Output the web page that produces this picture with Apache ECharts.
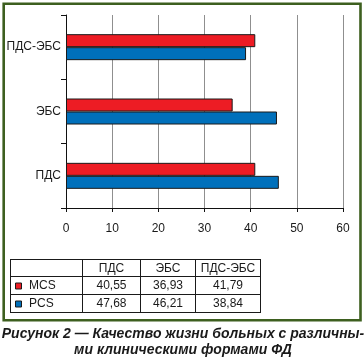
<!DOCTYPE html>
<html><head><meta charset="utf-8">
<script src="https://cdn.jsdelivr.net/npm/echarts@6/dist/echarts.min.js"></script>
<style>html,body{margin:0;padding:0;background:#fff}#c{width:364px;height:359px}</style>
</head><body><div id="c"></div>
<script>
// Data
var categories = ['ПДС', 'ЭБС', 'ПДС-ЭБС'];
var seriesNames = ['MCS', 'PCS'];
var mcsValues = [41.0, 36.1, 41.0];   // bar lengths as drawn
var pcsValues = [46.1, 45.7, 39.0];
var tableMCS = ['40,55', '36,93', '41,79']; // values printed in the table
var tablePCS = ['47,68', '46,21', '38,84'];
var xTicks = [0, 10, 20, 30, 40, 50, 60];
var captionLines = ['Рисунок 2 — Качество жизни больных с различны-', 'ми клиническими формами ФД'];

var colors = ['#ed1c24', '#0070bb'];
var FONT = '"Liberation Sans", Arial, sans-serif';
var chart = echarts.init(document.getElementById('c'), null, {renderer: 'canvas'});

// table graphics
var colX = [10, 82, 140, 195, 260];
var rowY = [259, 276, 294, 312];
var g = [];
g.push({type: 'rect', shape: {x: 3.7, y: 3.7, width: 356.8, height: 316.6}, style: {fill: 'none', stroke: '#3d5f1f', lineWidth: 2.6}, z: 100});
rowY.forEach(function (y) {
  g.push({type: 'line', shape: {x1: colX[0], y1: y + 0.5, x2: colX[colX.length - 1], y2: y + 0.5}, style: {stroke: '#1a1a1a', lineWidth: 1}});
});
colX.forEach(function (x) {
  g.push({type: 'line', shape: {x1: x + 0.5, y1: rowY[0], x2: x + 0.5, y2: rowY[rowY.length - 1] + 1}, style: {stroke: '#1a1a1a', lineWidth: 1}});
});
var cellFont = '12px ' + FONT;
categories.forEach(function (c, i) {
  var cx = (colX[i + 1] + colX[i + 2]) / 2 + 0.5;
  g.push({type: 'text', style: {text: c, x: cx, y: (rowY[0] + rowY[1]) / 2 + 1, align: 'center', verticalAlign: 'middle', font: cellFont, fill: '#1a1a1a'}});
  g.push({type: 'text', style: {text: tableMCS[i], x: cx, y: (rowY[1] + rowY[2]) / 2 + 1, align: 'center', verticalAlign: 'middle', font: cellFont, fill: '#1a1a1a'}});
  g.push({type: 'text', style: {text: tablePCS[i], x: cx, y: (rowY[2] + rowY[3]) / 2 + 1, align: 'center', verticalAlign: 'middle', font: cellFont, fill: '#1a1a1a'}});
});
seriesNames.forEach(function (n, i) {
  var cy = (rowY[i + 1] + rowY[i + 2]) / 2 + 1;
  g.push({type: 'rect', shape: {x: 15.5, y: cy - 3, width: 6, height: 6}, style: {fill: colors[i], stroke: '#1a1a1a', lineWidth: 1}});
  g.push({type: 'text', style: {text: n, x: 29, y: cy, align: 'left', verticalAlign: 'middle', font: cellFont, fill: '#1a1a1a'}});
});
captionLines.forEach(function (t, i) {
  g.push({type: 'text', style: {text: t, x: 183, y: 334.5 + i * 15.5, align: 'center', verticalAlign: 'middle', font: 'italic bold 14px "Liberation Sans", Arial, sans-serif', fill: '#1a1a1a'}});
});

chart.setOption({
  animation: false,
  backgroundColor: '#fff',
  grid: {left: 66, right: 21, top: 15, bottom: 151, containLabel: false},
  xAxis: {
    type: 'value', min: xTicks[0], max: xTicks[xTicks.length - 1], interval: 10,
    axisLine: {show: true, lineStyle: {color: '#111', width: 1}},
    axisTick: {show: true, length: 4, lineStyle: {color: '#111'}},
    axisLabel: {color: '#1a1a1a', fontSize: 12, fontFamily: FONT, margin: 15},
    splitLine: {show: true, lineStyle: {color: '#8f8f8f', width: 1}}
  },
  yAxis: {
    type: 'category', data: categories,
    axisLine: {show: true, lineStyle: {color: '#111', width: 1}},
    axisTick: {show: true, length: 5, lineStyle: {color: '#111'}},
    axisLabel: {color: '#1a1a1a', fontSize: 12, fontFamily: FONT, margin: 5}
  },
  series: [
    {name: seriesNames[0], type: 'bar', data: mcsValues, barWidth: 13, barGap: '0%',
     itemStyle: {color: colors[0], borderColor: '#1a1a1a', borderWidth: 1}},
    {name: seriesNames[1], type: 'bar', data: pcsValues, barWidth: 13, barGap: '0%',
     itemStyle: {color: colors[1], borderColor: '#1a1a1a', borderWidth: 1}}
  ],
  graphic: g
});
</script></body></html>
